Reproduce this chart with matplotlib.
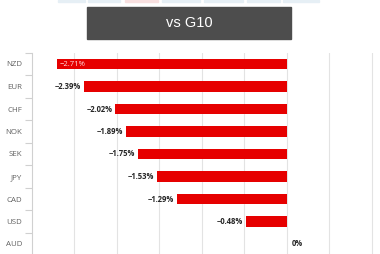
import matplotlib
matplotlib.use("Agg")
import matplotlib.pyplot as plt
from matplotlib.patches import Rectangle

currencies = ["NZD", "EUR", "CHF", "NOK", "SEK", "JPY", "CAD", "USD", "AUD"]
changes = [-2.71, -2.39, -2.02, -1.89, -1.75, -1.53, -1.29, -0.48, 0.0]
title = "vs G10"

plt.rcParams['font.family'] = ['Open Sans', 'DejaVu Sans']

fig = plt.figure(figsize=(3.8, 2.54), dpi=100)
W, H = 380, 254

# faint tab row at top
tabs = [(58, 85), (88, 120), (125, 158), (162, 200), (204, 243), (247, 280), (283, 319)]
for i, (x0, x1) in enumerate(tabs):
    col = '#f8e0e0' if i == 2 else '#e6eff5'
    fig.patches.append(Rectangle((x0 / W, 1 - 2 / H), (x1 - x0) / W, 2 / H,
                                 transform=fig.transFigure, color=col, zorder=0))

# title box
fig.patches.append(Rectangle((87 / W, 1 - 39 / H), (291 - 87) / W, 32 / H,
                             transform=fig.transFigure, color='#4d4d4d', zorder=1))
fig.text(189 / W, 1 - 23 / H, title, color='white', fontsize=10.5,
         ha='center', va='center', family=['Liberation Sans', 'DejaVu Sans'])

top_px, bot_px = 52.75, 255.25
ax = fig.add_axes([32 / W, 1 - bot_px / H, 348 / W, (bot_px - top_px) / H])

y = list(range(len(currencies)))
ax.barh(y, changes, height=0.48, color='#e60000', zorder=3)
ax.set_ylim(len(currencies) - 0.5, -0.5)
ax.set_xlim(-3.0, 1.1)

ax.set_xticks([-2.5, -2.0, -1.5, -1.0, -0.5, 0.0, 0.5, 1.0])
ax.tick_params(axis='x', length=0, labelbottom=False)
ax.grid(axis='x', color='#e3e3e3', linewidth=0.8, zorder=0)

ax.set_yticks(y)
ax.set_yticklabels(currencies, fontsize=5.7, color='#606060')
ax.tick_params(axis='y', which='major', length=0, pad=7)
ax.set_yticks([i + 0.5 for i in range(len(currencies) - 1)] + [-0.5], minor=True)
ax.tick_params(axis='y', which='minor', length=5, color='#d0d0d0', width=0.8)

for s in ['top', 'right', 'bottom']:
    ax.spines[s].set_visible(False)
ax.spines['left'].set_color('#d0d0d0')

for i, v in enumerate(changes):
    txt = f"{v:.2f}%".replace('-', '\u2212') if v != 0 else "0%"
    if v == 0:
        ax.annotate(txt, (v, i), xytext=(4, 0), textcoords='offset points',
                    ha='left', va='center', fontsize=5.5, fontweight='bold', color='#262626')
    elif v < -2.6:
        ax.annotate(txt, (v, i), xytext=(2, 0), textcoords='offset points',
                    ha='left', va='center', fontsize=5.5, color='#ffe0e0')
    else:
        ax.annotate(txt, (v, i), xytext=(-2, 0), textcoords='offset points',
                    ha='right', va='center', fontsize=5.5, fontweight='bold', color='#262626')

fig.savefig("out.png", dpi=100)
